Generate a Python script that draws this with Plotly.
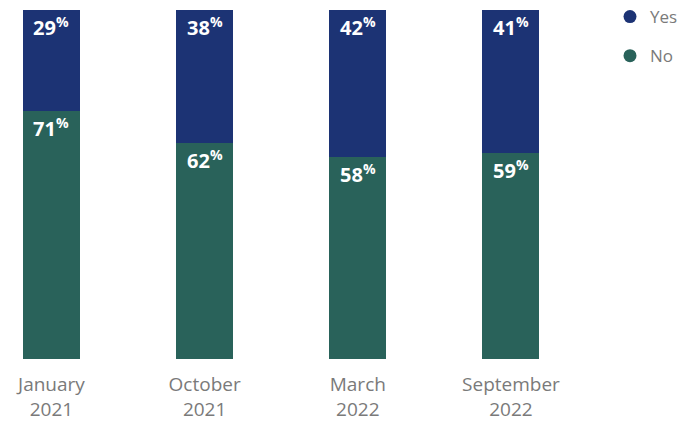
import plotly.graph_objects as go

categories = ["January<br>2021", "October<br>2021", "March<br>2022", "September<br>2022"]
yes_vals = [29, 38, 42, 41]
no_vals = [71, 62, 58, 59]

YES_COLOR = "#1c3374"
NO_COLOR = "#29625a"
x = list(range(len(categories)))

fig = go.Figure()
fig.add_trace(go.Bar(x=x, y=no_vals, marker_color=NO_COLOR, marker_line_width=0,
                     width=0.372, showlegend=False, hoverinfo="skip"))
fig.add_trace(go.Bar(x=x, y=yes_vals, marker_color=YES_COLOR, marker_line_width=0,
                     width=0.372, showlegend=False, hoverinfo="skip"))

# legend entries with circle markers
fig.add_trace(go.Scatter(x=[None], y=[None], mode="markers", name="Yes",
                         marker=dict(color=YES_COLOR, size=13, symbol="circle"), legendgroup="a"))
fig.add_trace(go.Scatter(x=[None], y=[None], mode="markers", name="No",
                         marker=dict(color=NO_COLOR, size=13, symbol="circle"), legendgroup="b"))

label_font = dict(family="Open Sans, Arial, sans-serif", size=20, color="white")
for i in x:
    total = no_vals[i] + yes_vals[i]
    fig.add_annotation(x=i, y=total, yref="y", text=f"<b>{yes_vals[i]}<sup>%</sup></b>",
                       showarrow=False, yanchor="top", yshift=0, font=label_font)
    fig.add_annotation(x=i, y=no_vals[i], yref="y", text=f"<b>{no_vals[i]}<sup>%</sup></b>",
                       showarrow=False, yanchor="top", yshift=0, font=label_font)

fig.update_layout(
    width=679, height=423,
    barmode="stack",
    plot_bgcolor="white", paper_bgcolor="white",
    margin=dict(l=0, r=89, t=10, b=64, autoexpand=False),
    xaxis=dict(range=[-0.336, 3.516], tickmode="array", tickvals=x, ticktext=categories,
               showgrid=False, zeroline=False, showline=False, ticks="",
               ticklabelstandoff=12,
               tickfont=dict(family="Open Sans, Arial, sans-serif", size=19, color="#7a7a7a")),
    yaxis=dict(range=[0, 100], visible=False, showgrid=False, zeroline=False),
    legend=dict(x=1.0339, xanchor="left", y=1.0315, yanchor="top",
                font=dict(family="Open Sans, Arial, sans-serif", size=17, color="#7a7a7a"),
                tracegroupgap=14, itemwidth=30, bgcolor="rgba(0,0,0,0)"),
    bargap=0,
)

fig.write_html("out.html",
               config={"displayModeBar": False},
               post_script="document.body.style.margin='0';document.body.style.overflow='hidden';")
